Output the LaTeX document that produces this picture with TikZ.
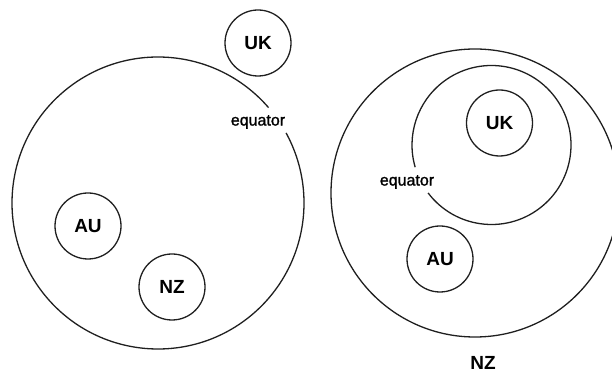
\documentclass[tikz,border=0pt]{standalone}
\usepackage{fontspec}
\setmainfont{Liberation Sans}
\begin{document}
\begin{tikzpicture}[x=1pt,y=1pt,
  ring/.style={draw=black!88, line width=1.3pt},
  country/.style={ring, circle, minimum size=66pt, inner sep=0pt, font=\fontsize{19}{21}\selectfont\bfseries},
  eqlabel/.style={font=\fontsize{16}{18}\selectfont\addfontfeature{FakeBold=1.4}, inner sep=0pt},
  biglabel/.style={font=\fontsize{19}{21}\selectfont\bfseries, inner sep=0pt}]
\useasboundingbox (0,0) rectangle (612,374);
% left picture
\draw[ring] (158,171) ++(40.8:146) arc[start angle=40.8, end angle=388.7, radius=146];
\node[country] (ukl) at (258,331) {UK};
\node[country] (aul) at (88,148) {AU};
\node[country] (nzl) at (172,87) {NZ};
\node[eqlabel] (eql) at (258,252) {equator};
% right picture
\draw[ring] (475,181) circle[radius=144];
\draw[ring] (491.5,229) ++(217.1:79.5) arc[start angle=217.1, end angle=556.2, radius=79.5];
\node[country] (ukr) at (499.5,251) {UK};
\node[country] (aur) at (440,115) {AU};
\node[eqlabel] (eqr) at (407,192) {equator};
\node[biglabel] (nzr) at (483,11) {NZ};
\end{tikzpicture}
\end{document}
